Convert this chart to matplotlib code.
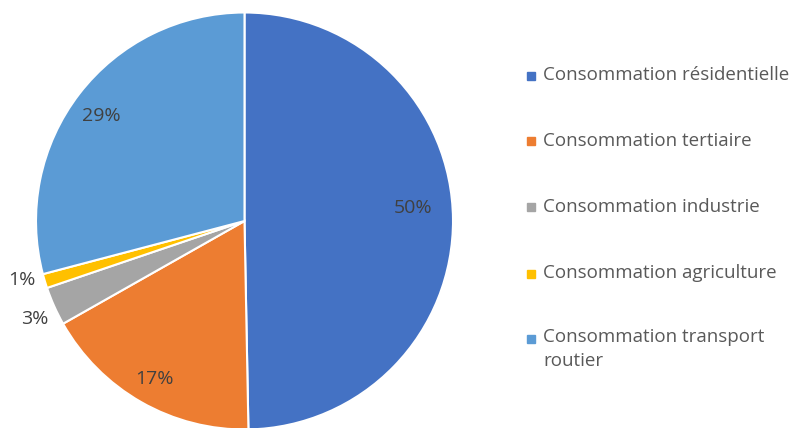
import numpy as np
import matplotlib
matplotlib.use('Agg')
import matplotlib.pyplot as plt
from matplotlib.patches import Rectangle

# data (percent of total)
categories = ['Consommation résidentielle', 'Consommation tertiaire',
              'Consommation industrie', 'Consommation agriculture',
              'Consommation transport\nroutier']
shares = [49.7, 17.1, 3.0, 1.1, 29.1]
colors = ['#4472C4', '#ED7D31', '#A5A5A5', '#FFC000', '#5B9BD5']

# label placement: distance from centre (radius units) and angle nudge (deg)
label_dist = [0.81, 0.875, 1.11, 1.105, 0.853]
label_nudge = [4.0, 0.0, 1.0, -2.0, 1.4]

plt.rcParams['font.family'] = ['Open Sans', 'DejaVu Sans']
fs = 13.5

fig = plt.figure(figsize=(7.92, 4.28), dpi=100)
ax = fig.add_axes([36 / 792, -1.5 / 428, 417 / 792, 417 / 428])

wedges, _ = ax.pie(shares, colors=colors, startangle=90, counterclock=False,
                   radius=1, wedgeprops=dict(edgecolor='white', linewidth=1.5))
ax.set_xlim(-1, 1)
ax.set_ylim(-1, 1)
ax.set_aspect('equal')
ax.axis('off')

total = sum(shares)
for w, v, d, n in zip(wedges, shares, label_dist, label_nudge):
    ang = np.deg2rad((w.theta1 + w.theta2) / 2 + n)
    ax.text(d * np.cos(ang), d * np.sin(ang), '%d%%' % round(v / total * 100),
            ha='center', va='center', fontsize=14, color='#404040')

# legend, drawn by hand so the square sits on the first line
y0 = 1 - 75.5 / 428
step = 66 / 428
for i, (lab, c) in enumerate(zip(categories, colors)):
    y = y0 - i * step
    fig.patches.append(Rectangle((527 / 792, y - 4 / 428), 8 / 792, 8 / 428,
                                 transform=fig.transFigure, color=c))
    if '\n' in lab:
        fig.text(543 / 792, y + 11.5 / 428, lab, ha='left', va='top',
                 fontsize=fs, color='#595959', linespacing=1.4)
    else:
        fig.text(543 / 792, y, lab, ha='left', va='center',
                 fontsize=fs, color='#595959')

fig.savefig('out.png', dpi=100)
